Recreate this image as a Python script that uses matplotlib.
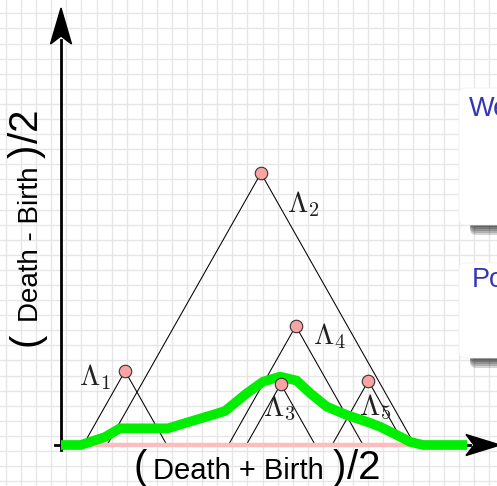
import numpy as np
import matplotlib
matplotlib.use("Agg")
import matplotlib.pyplot as plt
from matplotlib.patches import Polygon, FancyBboxPatch

plt.rcParams['mathtext.fontset'] = 'cm'

# persistence pairs shown as (mid, half-life) = ((d+b)/2, (d-b)/2)
mids = [4.27, 13.33, 14.65, 15.65, 20.49]
halfs = [2.79, 10.26, 2.30, 4.49, 2.42]
names = [r'$\Lambda_1$', r'$\Lambda_2$', r'$\Lambda_3$', r'$\Lambda_4$', r'$\Lambda_5$']

# green landscape curve
land_x = [0, 1.31, 2.93, 3.93, 7.13, 10.93, 12.38, 13.47, 14.6, 15.71, 16.6,
          17.71, 19.05, 20.38, 21.27, 22.38, 23.27, 24.13, 27.07]
land_y = [0, 0, 0.30, 0.63, 0.63, 1.28, 1.95, 2.39, 2.58, 2.43, 1.96,
          1.45, 1.13, 0.88, 0.69, 0.38, 0.12, 0, 0]

W, H = 497, 486
fig = plt.figure(figsize=(W / 100, H / 100), dpi=100)

# background layer in pixel units: grid, axes arrows, labels, boxes
bg = fig.add_axes([0, 0, 1, 1])
bg.set_xlim(0, W)
bg.set_ylim(H, 0)
bg.axis('off')

for gx in np.arange(6, W, 15.09):
    bg.axvline(gx, color='#e6e6e6', lw=1.0, zorder=0)
for gy in np.arange(13.4, H, 15.09):
    bg.axhline(gy, color='#e6e6e6', lw=1.0, zorder=0)

# axes with stealth arrowheads
bg.plot([61, 61], [450, 40], color='black', lw=2.0, zorder=2)
bg.plot([55, 470], [445, 445], color='black', lw=2.0, zorder=2)
bg.add_patch(Polygon([[61, 8], [50.5, 44], [61, 36], [71.5, 44]],
                     closed=True, color='black', zorder=3))
bg.add_patch(Polygon([[500, 445], [466, 434.5], [474, 445], [466, 455.5]],
                     closed=True, color='black', zorder=3))

# axis labels
lab = dict(family='Liberation Sans', color='black', rotation_mode='anchor')
bg.text(134, 479, '(', fontsize=29, ha='left', va='baseline', **lab)
bg.text(153, 479, 'Death + Birth', fontsize=21, ha='left', va='baseline', **lab)
bg.text(333, 479, ')', fontsize=29, ha='left', va='baseline', **lab)
bg.text(347, 479, '/2', fontsize=29, ha='left', va='baseline', **lab)

bg.text(38, 346, '(', fontsize=29, rotation=90, ha='left', va='baseline', **lab)
bg.text(38, 322, 'Death - Birth', fontsize=20, rotation=90, ha='left', va='baseline', **lab)
bg.text(38, 158, ')', fontsize=29, rotation=90, ha='left', va='baseline', **lab)
bg.text(38, 143, '/2', fontsize=29, rotation=90, ha='left', va='baseline', **lab)

# partially visible side boxes
for top, bot, txt, tx, ty in [(88, 225, 'We', 469, 116), (263, 358, 'Po', 471.5, 287)]:
    for k in range(5):
        bg.add_patch(FancyBboxPatch((470, top + 10), 60, bot - top - 8 + 2 * k,
                                    boxstyle='round,pad=0,rounding_size=6',
                                    fc='black', ec='none', alpha=0.17, zorder=4))
    bg.add_patch(FancyBboxPatch((459, top), 80, bot - top,
                                boxstyle='round,pad=0,rounding_size=6',
                                fc='white', ec='#f2f2f2', lw=0.6, zorder=5))
    bg.text(tx, ty, txt, fontsize=19.5, family='Liberation Sans',
            color='#3535b5', ha='left', va='baseline', zorder=6, clip_on=True)

# data layer
ax = fig.add_axes([0, 0, 1, 1])
ax.set_xlim((0 - 61) / 15, (W - 61) / 15)
ax.set_ylim((445 - H) / 26.5, 445 / 26.5)
ax.patch.set_alpha(0)
ax.axis('off')

for m, h in zip(mids, halfs):
    ax.plot([m - h, m, m + h], [0, h, 0], color='black', lw=0.75, zorder=2)

lo = min(m - h for m, h in zip(mids, halfs))
hi = max(m + h for m, h in zip(mids, halfs))
ax.plot([lo, hi], [0, 0], color='#fbbdbd', lw=3.2, solid_capstyle='butt', zorder=3)

ax.plot(land_x, land_y, color='#00ee00', lw=7, solid_joinstyle='round',
        solid_capstyle='butt', zorder=4)

ax.plot(mids, halfs, 'o', ms=9, mfc='#f9a3a3', mec='#333333', mew=0.8, zorder=5)

offsets = [(-46, 14), (26, 39), (-18, 32), (17, 18), (-9, 34)]
for m, h, name, (dx, dy) in zip(mids, halfs, names, offsets):
    ax.annotate(name, (m, h), xytext=(dx, -dy), textcoords='offset pixels',
                fontsize=21, ha='left', va='baseline', color='#222222', zorder=6)

fig.savefig('out.png', dpi=100)
